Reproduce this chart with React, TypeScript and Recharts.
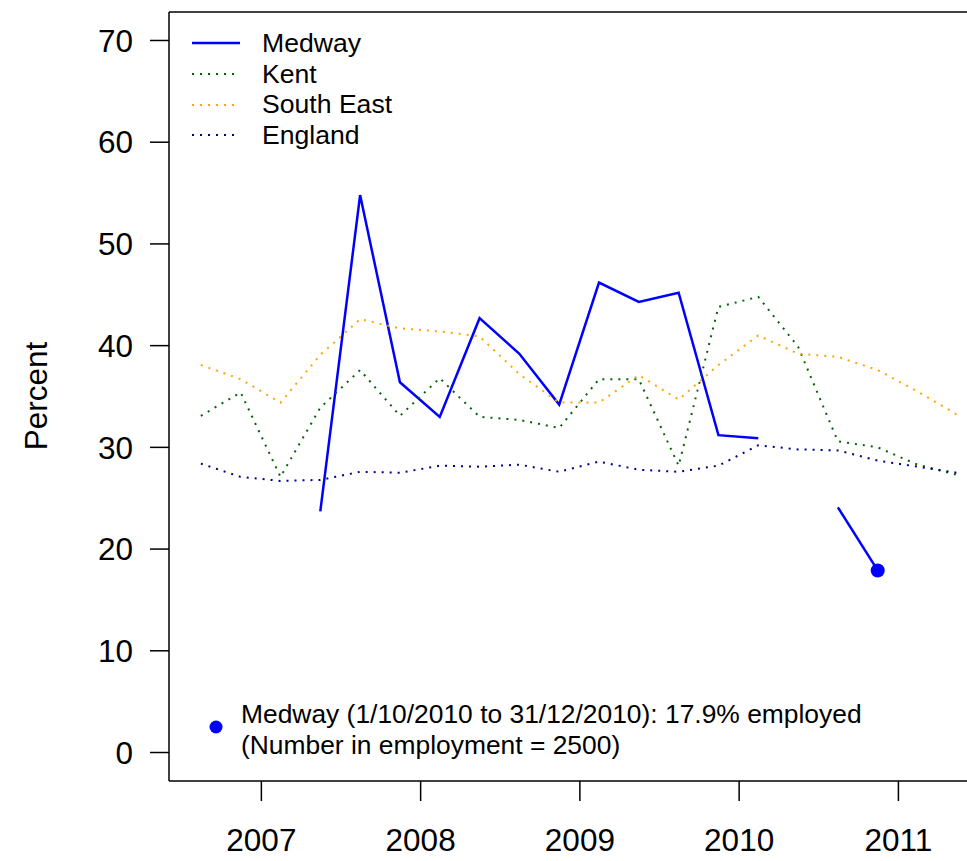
import React from 'react';
import { LineChart, Line, XAxis, YAxis, ReferenceLine, Legend } from 'recharts';

// Mid-quarter dates (decimal years)
const quarterMid = [
  2006.62, 2006.87, 2007.12, 2007.37, 2007.62, 2007.87, 2008.12, 2008.37, 2008.62, 2008.87,
  2009.12, 2009.37, 2009.62, 2009.87, 2010.12, 2010.37, 2010.62, 2010.87, 2011.12, 2011.37,
];

const medway = [
  null, null, null, 23.7, 54.8, 36.4, 33.0, 42.7, 39.2, 34.2,
  46.2, 44.3, 45.2, 31.2, 30.9, null, 24.1, 17.9, null, null,
];
const kent = [
  33.1, 35.4, 27.1, 33.9, 37.6, 33.1, 36.8, 33.0, 32.7, 31.9,
  36.7, 36.7, 28.2, 43.8, 44.8, 39.9, 30.6, 30.0, 28.3, 27.3,
];
const southEast = [
  38.1, 36.7, 34.4, 39.1, 42.6, 41.7, 41.4, 40.9, 37.2, 34.4,
  34.4, 37.1, 34.7, 38.1, 41.0, 39.2, 38.9, 37.6, 35.5, 33.2,
];
const england = [
  28.4, 27.1, 26.7, 26.8, 27.6, 27.5, 28.2, 28.1, 28.3, 27.6,
  28.6, 27.8, 27.6, 28.2, 30.2, 29.8, 29.7, 28.7, 28.1, 27.5,
];

const yearTicks = [2007, 2008, 2009, 2010, 2011];
const percentTicks = [0, 10, 20, 30, 40, 50, 60, 70];
const highlightIndex = 17;
const noteLines = [
  'Medway (1/10/2010 to 31/12/2010): 17.9% employed',
  '(Number in employment = 2500)',
];

const series = [
  { key: 'medway', name: 'Medway', color: '#0000FF', dash: undefined as string | undefined, width: 2.5 },
  { key: 'kent', name: 'Kent', color: '#006400', dash: '2 6', width: 2 },
  { key: 'southEast', name: 'South East', color: '#FFA500', dash: '2 6', width: 2 },
  { key: 'england', name: 'England', color: '#00008B', dash: '2 6', width: 2 },
];

const data = quarterMid.map((t, i) => ({
  t,
  medway: medway[i],
  kent: kent[i],
  southEast: southEast[i],
  england: england[i],
}));

const FONT = '"Liberation Sans", Arial, Helvetica, sans-serif';

const LegendContent = () => (
  <div style={{ fontFamily: FONT, fontSize: 26.6, color: '#000' }}>
    {series.map((s) => (
      <div key={s.key} style={{ display: 'flex', alignItems: 'center', height: 30.7, lineHeight: '30.7px' }}>
        <svg width={48} height={10} style={{ display: 'block' }}>
          <line x1={0} y1={5} x2={48} y2={5} stroke={s.color} strokeWidth={s.width} strokeDasharray={s.dash} />
        </svg>
        <span style={{ marginLeft: 22, whiteSpace: 'nowrap' }}>{s.name}</span>
      </div>
    ))}
  </div>
);

const MedwayDot = (p: any) => {
  if (p.index === highlightIndex && p.cx != null && p.cy != null) {
    return <circle key={`d-${p.index}`} cx={p.cx} cy={p.cy} r={7} fill="#0000FF" stroke="none" />;
  }
  return <g key={`d-${p.index}`} />;
};

const YLabel = () => (
  <text
    transform="translate(47,396) rotate(-90)"
    textAnchor="middle"
    fontFamily={FONT}
    fontSize={31.5}
    fill="#000"
  >
    Percent
  </text>
);

export default function App() {
  return (
    <div style={{ position: 'absolute', left: 0, top: 0, width: 967, height: 861, overflow: 'hidden', background: '#fff' }}>
      <div style={{ position: 'relative', width: 1000, height: 861 }}>
        <LineChart
          width={1000}
          height={861}
          data={data}
          margin={{ top: 12, right: 14, bottom: 0, left: 0 }}
          style={{ fontFamily: FONT }}
        >
          <XAxis
            dataKey="t"
            type="number"
            domain={[2006.42, 2011.55]}
            ticks={yearTicks}
            allowDataOverflow
            height={80}
            tickSize={20}
            tickMargin={28}
            axisLine={{ stroke: '#000', strokeWidth: 1.5 }}
            tickLine={{ stroke: '#000', strokeWidth: 1.5 }}
            tick={{ fill: '#000', fontSize: 31.5, fontFamily: FONT }}
          />
          <YAxis
            type="number"
            domain={[-2.8, 72.8]}
            ticks={percentTicks}
            allowDataOverflow
            width={169}
            tickSize={19}
            tickMargin={17}
            axisLine={{ stroke: '#000', strokeWidth: 1.5 }}
            tickLine={{ stroke: '#000', strokeWidth: 1.5 }}
            tick={{ fill: '#000', fontSize: 31.5, fontFamily: FONT }}
            label={{ content: <YLabel /> }}
          />
          <ReferenceLine y={72.8} stroke="#000" strokeWidth={1.5} ifOverflow="visible" />
          <Legend
            content={<LegendContent />}
            layout="vertical"
            align="center"
            verticalAlign="middle"
            wrapperStyle={{ position: 'absolute', left: 192, top: 28, width: 'auto', height: 'auto' }}
          />
          {series.map((s) => (
            <Line
              key={s.key}
              dataKey={s.key}
              name={s.name}
              type="linear"
              stroke={s.color}
              strokeWidth={s.width}
              strokeDasharray={s.dash}
              dot={s.key === 'medway' ? MedwayDot : false}
              activeDot={false}
              isAnimationActive={false}
            />
          ))}
        </LineChart>
        <div style={{ position: 'absolute', left: 209, top: 720 }}>
          <svg width={14} height={14} style={{ display: 'block' }}>
            <circle cx={7} cy={7} r={6.5} fill="#0000FF" />
          </svg>
        </div>
        <div
          style={{
            position: 'absolute',
            left: 241,
            top: 699,
            fontFamily: FONT,
            fontSize: 26.4,
            lineHeight: '31px',
            color: '#000',
            whiteSpace: 'nowrap',
          }}
        >
          {noteLines.map((l) => (
            <div key={l}>{l}</div>
          ))}
        </div>
      </div>
    </div>
  );
}
